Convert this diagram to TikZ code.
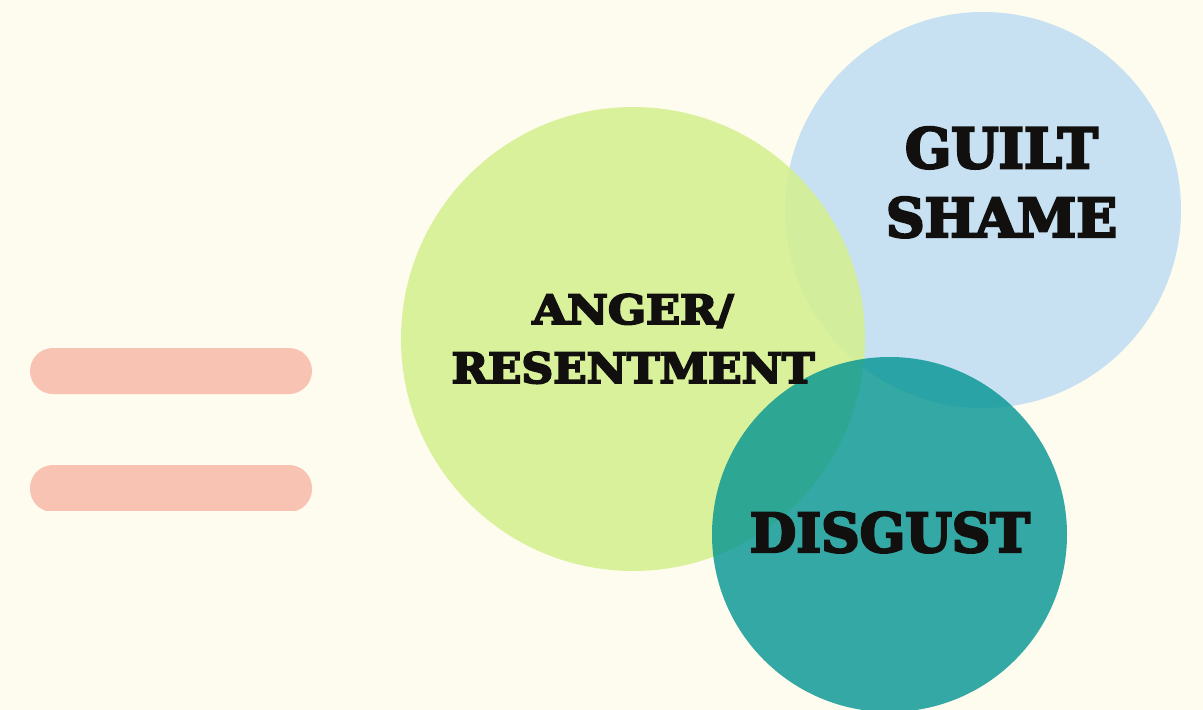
\documentclass[tikz,border=0pt]{standalone}
\usepackage{fontspec}
\setmainfont{DejaVu Serif}
\newfontfamily\heavy{DejaVu Serif}[BoldFeatures={FakeBold=4.5}]
\usepackage{graphicx}
\definecolor{bgc}{RGB}{254,252,238}
\definecolor{barc}{RGB}{249,195,179}
\definecolor{bluec}{RGB}{199,224,242}
\definecolor{greenc}{RGB}{212,240,142}
\definecolor{tealc}{RGB}{2,148,147}
\definecolor{inkc}{RGB}{17,16,14}
\newcommand{\fitword}[3]{\resizebox{#1}{#2}{\heavy\bfseries #3}}
\tikzset{
  blob/.style={circle, inner sep=0pt, minimum size=#1},
  word/.style={inner sep=0pt, anchor=base, text=inkc},
  bar/.style={fill=barc, rounded corners=23pt}
}
\begin{document}
\begin{tikzpicture}[x=1pt, y=-1pt]
\fill[bgc] (0,0) rectangle (1203,710);
\useasboundingbox (0,0) rectangle (1203,710);
% equals sign
\fill[bar] (30,348) rectangle (312,394);
\begin{scope}
\clip (0,0) rectangle (1203,510);
\fill[bar] (30,465) rectangle (312,512);
\end{scope}
% circles
\node[blob=396pt, fill=bluec] (guilt) at (983,210) {};
\node[blob=464pt, fill=greenc, fill opacity=0.85] (anger) at (633,339) {};
\node[blob=355pt, fill=tealc, fill opacity=0.8] (disgust) at (889.5,534.5) {};
% labels
\node[word] (t1) at (633,324) {\fitword{201pt}{30pt}{ANGER/}};
\node[word] (t2) at (633,383) {\fitword{363pt}{31pt}{RESENTMENT}};
\node[word] (t3) at (1001.5,168) {\fitword{193pt}{41pt}{GUILT}};
\node[word] (t4) at (1001.5,237) {\fitword{231pt}{40pt}{SHAME}};
\node[word] (t5) at (890,552) {\fitword{280pt}{40pt}{DISGUST}};
\end{tikzpicture}
\end{document}
